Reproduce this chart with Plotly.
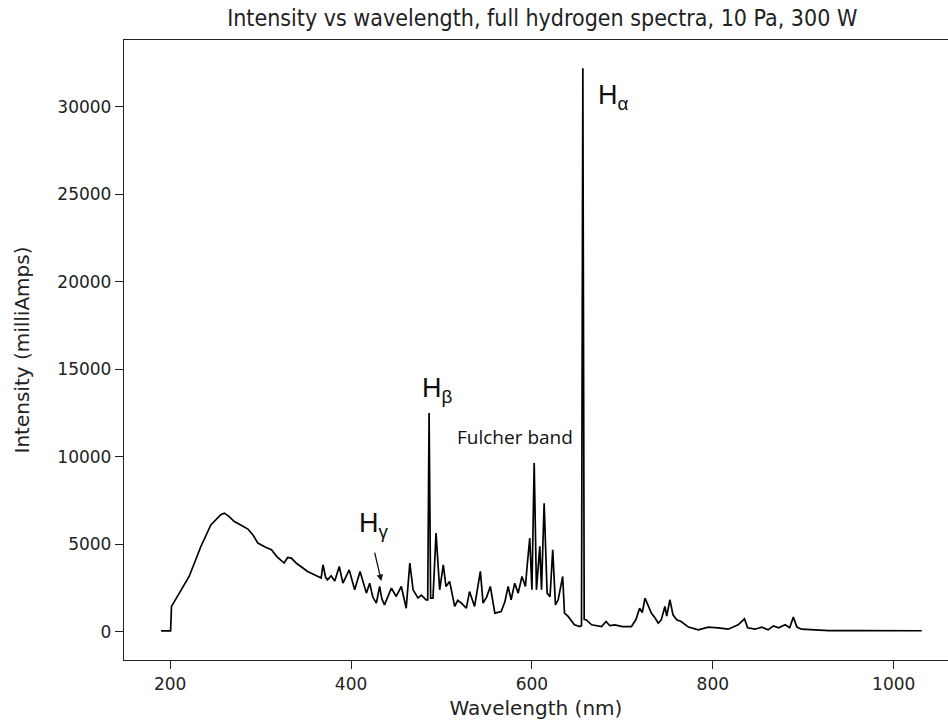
import plotly.graph_objects as go

wavelength = [190, 196, 200.5, 201.5, 210, 221, 234, 245, 256, 260, 265, 271, 280, 286, 292, 297, 305, 312, 318, 322,
              326, 330, 334, 340, 346, 352, 360, 367, 369, 372, 374, 378, 382, 387, 391, 398, 404, 410, 417, 420.6,
              424, 428, 431.6, 434, 437, 441, 444.6, 450, 455.6, 461, 465, 468.6, 474, 477.7, 483, 484.8, 486.3, 488,
              490.6, 494, 498, 502, 505, 509, 514.6, 518, 522, 527.5, 531, 536.6, 543, 546, 550, 554, 559, 566, 570,
              573.7, 577, 581, 584.8, 589, 592.8, 595, 597.6, 600, 602.5, 605, 608.7, 610.6, 613.5, 616.8, 620, 623,
              626, 629, 634, 636, 640, 647, 653, 654.8, 656.3, 657.8, 660, 666, 677, 682, 686, 691.7, 700, 710, 715,
              719, 722, 725, 728.6, 732, 736, 739.6, 743, 747, 749, 752.5, 756, 760, 765, 773, 784, 795, 806, 817,
              828, 835, 838.5, 846.6, 854, 861, 867, 872.6, 880, 885, 889, 893, 898, 913, 928, 965, 1001, 1031]

intensity = [50, 50, 50, 1450, 2200, 3160, 4875, 6110, 6690, 6780, 6600, 6300, 6050, 5870, 5500, 5070, 4850, 4690, 4300, 4100,
             3930, 4250, 4210, 3900, 3650, 3450, 3250, 3070, 3830, 3100, 2970, 3200, 2900, 3730, 2780, 3540, 2400, 3450, 2210, 2780,
             2000, 1640, 2590, 1900, 1540, 2100, 2500, 2020, 2590, 1350, 3930, 2400, 1930, 2100, 1830, 1830, 12500, 1930,
             1930, 5640, 2400, 3830, 2590, 2880, 1450, 1800, 1640, 1350, 2300, 1450, 3450, 1640, 2000, 2590, 1070, 1160, 1700,
             2590, 1830, 2780, 2210, 3160, 2590, 3930, 5350, 2400, 9640, 2400, 4880, 2400, 7350, 2210, 2000, 4690,
             1540, 1830, 3160, 1070, 880, 400, 300, 350, 32200, 700, 690, 400, 300, 590, 350, 400, 300, 300, 700,
             1350, 1100, 1930, 1450, 1070, 800, 500, 690, 1450, 900, 1830, 970, 690, 590, 270, 110, 270, 230, 150,
             400, 740, 230, 150, 270, 110, 340, 230, 400, 230, 840, 270, 150, 110, 70, 70, 70, 60]

x_ticks = [200, 400, 600, 800, 1000]
y_ticks = [0, 5000, 10000, 15000, 20000, 25000, 30000]

fig = go.Figure()
fig.add_trace(go.Scatter(x=wavelength, y=intensity, mode="lines",
                         line=dict(color="black", width=1.7), showlegend=False, hoverinfo="skip"))

ann_font = dict(family="Liberation Sans, Arial", size=27, color="#111111")
fig.add_annotation(x=690, y=30570, text="H<sub>α</sub>", showarrow=False, font=ann_font)
fig.add_annotation(x=495.5, y=13830, text="H<sub>β</sub>", showarrow=False, font=ann_font)
fig.add_annotation(x=425.7, y=6110, text="H<sub>γ</sub>", showarrow=False, font=ann_font)
fig.add_annotation(x=581.8, y=11140, text="Fulcher band", showarrow=False,
                   font=dict(family="Open Sans", size=19, color="#111111"))
fig.add_annotation(x=433.5, y=2900, text="", showarrow=True, ax=-7, ay=-30,
                   arrowhead=2, arrowsize=1, arrowwidth=1.3, arrowcolor="#111111", standoff=0)

axis_font = dict(family="DejaVu Sans", size=17, color="#222222")
title_font = dict(family="DejaVu Sans", size=20, color="#222222")
fig.update_layout(
    width=948, height=723,
    margin=dict(l=124, r=0, t=40, b=63),
    paper_bgcolor="white", plot_bgcolor="white",
    title=dict(text="Intensity vs wavelength, full hydrogen spectra, 10 Pa, 300 W",
               x=0.572, xanchor="center", y=0.975, yanchor="middle",
               font=dict(family="DejaVu Sans Condensed, DejaVu Sans", size=23, color="#222222")),
    xaxis=dict(range=[149, 1060], tickvals=x_ticks, ticktext=[str(v) for v in x_ticks],
               showgrid=False, zeroline=False, showline=True, linecolor="#222222", linewidth=1.3,
               mirror=True, ticks="outside", ticklen=8, tickcolor="#222222", tickfont=axis_font,
               title=dict(text="Wavelength (nm)", font=title_font, standoff=8)),
    yaxis=dict(range=[-1610, 33810], tickvals=y_ticks, ticktext=[str(v) for v in y_ticks],
               showgrid=False, zeroline=False, showline=True, linecolor="#222222", linewidth=1.3,
               ticks="outside", ticklen=8, tickcolor="#222222", tickfont=axis_font,
               title=dict(text="Intensity (milliAmps)", font=title_font, standoff=22)),
)

fig.write_html("out.html")
